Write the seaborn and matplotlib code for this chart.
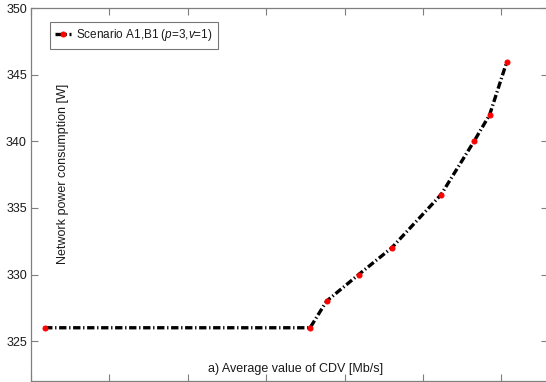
import matplotlib
matplotlib.use("Agg")
import matplotlib.pyplot as plt
import seaborn as sns
import pandas as pd

# data
cdv = [0.18, 3.56, 3.77, 4.18, 4.60, 5.23, 5.65, 5.85, 6.07]
power = [326, 326, 328, 330, 332, 336, 340, 342, 346]
y_ticks = [325, 330, 335, 340, 345, 350]
x_ticks = [0, 1, 2, 3, 4, 5, 6]
series_label = r"Scenario A1,B1 $\mathit{(p}\text{=}\mathit{3}\text{,}\mathit{v}\text{=}\mathit{1)}$"
x_label = "a) Average value of CDV [Mb/s]"
y_label = "Network power consumption [W]"

sns.set_style("white")
plt.rcParams["font.family"] = ["Liberation Sans", "DejaVu Sans"]
plt.rcParams["mathtext.fontset"] = "custom"
plt.rcParams["mathtext.rm"] = "Liberation Sans"
plt.rcParams["mathtext.it"] = "Liberation Sans:italic"

FS = 9
W, H = 546, 382
fig = plt.figure(figsize=(W / 100, H / 100), dpi=100)
left, right, top, bottom = 31, 548, 8.3, 381
ax = fig.add_axes([left / W, (H - bottom) / H, (right - left) / W, (bottom - top) / H])

df = pd.DataFrame({"cdv": cdv, "power": power})
sns.lineplot(data=df, x="cdv", y="power", ax=ax, color="black", lw=2.4,
             linestyle=(0, (2.2, 0.8, 0.4, 0.8)), marker="o", markersize=3.6,
             markerfacecolor="red", markeredgecolor="red", label=series_label,
             sort=False)

ax.set_xlim(0, (right - left) / 78.4)
ax.set_ylim(322, 350)
ax.set_xticks(x_ticks)
ax.set_xticklabels([])
ax.set_yticks(y_ticks)
ax.set_yticklabels([str(v) for v in y_ticks])
ax.tick_params(direction="in", length=5, width=0.8, color="#7f7f7f",
               top=True, right=True, left=True, bottom=True,
               labelsize=FS, labelcolor="#1a1a1a", pad=3)
for s in ax.spines.values():
    s.set_color("#7f7f7f")
    s.set_linewidth(0.9)
ax.set_xlabel("")
ax.set_ylabel("")

ax.text(296, H - 369, x_label, transform=None, fontsize=FS, color="#1a1a1a",
        ha="center", va="center")
ax.text(63, H - 174, y_label, transform=None, fontsize=FS, color="#1a1a1a",
        ha="center", va="center", rotation=90)

leg = ax.legend(loc="upper left", bbox_to_anchor=((50 - left) / (right - left), 1 - (22 - top) / (bottom - top)),
                borderaxespad=0, fontsize=8.5, frameon=True, fancybox=False,
                handlelength=1.3, handletextpad=0.45, borderpad=0.45,
                edgecolor="#555555")
leg.get_frame().set_linewidth(0.8)
for t in leg.get_texts():
    t.set_color("#1a1a1a")

fig.savefig("out.png", dpi=100)
